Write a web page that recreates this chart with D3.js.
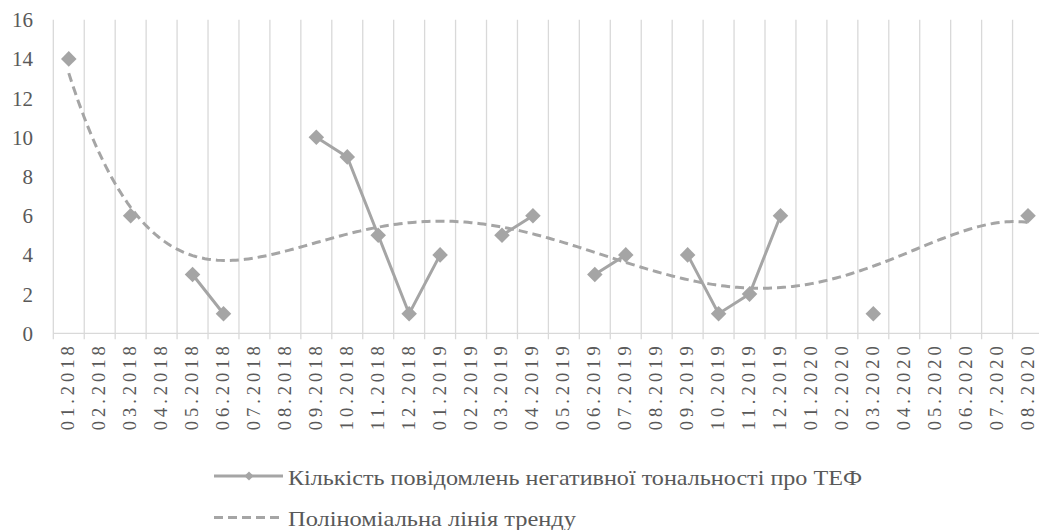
<html>
<head>
<meta charset="utf-8">
<script src="https://d3js.org/d3.v7.min.js"></script>
<style>
    body { margin: 0; background: #fff; }
</style>
</head>
<body>
<svg></svg>
<script>
    const width = 1039;
    const height = 530;

    // months on the category axis
    const months = [
        "01.2018","02.2018","03.2018","04.2018","05.2018","06.2018","07.2018","08.2018","09.2018","10.2018","11.2018","12.2018",
        "01.2019","02.2019","03.2019","04.2019","05.2019","06.2019","07.2019","08.2019","09.2019","10.2019","11.2019","12.2019",
        "01.2020","02.2020","03.2020","04.2020","05.2020","06.2020","07.2020","08.2020"
    ];
    // null = empty cell (gap in the line)
    const counts = [
        14, null, 6, null, 3, 1, null, null, 10, 9, 5, 1,
        4, null, 5, 6, null, 3, 4, null, 4, 1, 2, 6,
        null, null, 1, null, null, null, null, 6
    ];
    const yTicks = [0, 2, 4, 6, 8, 10, 12, 14, 16];
    const seriesName = "Кількість повідомлень негативної тональності про ТЕФ";
    const trendName = "Поліноміальна лінія тренду";
    const trendOrder = 5;

    const grey = "#a5a5a5";
    const gridColor = "#d9d9d9";
    const font = "Times New Roman, Liberation Serif, DejaVu Serif, serif";

    const svg = d3.select("svg").attr("width", width).attr("height", height);

    const x = d3.scaleBand().domain(months).range([53.3, 1043.5]).padding(0);
    const y = d3.scaleLinear().domain([0, 16]).range([333.3, 19.7]);
    const cx = m => x(m) + x.bandwidth() / 2;

    // vertical gridlines on category boundaries, running down as tick marks
    const bounds = months.map(m => x(m)).concat([x.range()[1]]);
    svg.append("g").selectAll("line")
        .data(bounds)
        .enter().append("line")
        .attr("x1", d => d).attr("x2", d => d)
        .attr("y1", y(16)).attr("y2", y(0) + 6)
        .style("stroke", gridColor)
        .style("stroke-width", 1.3);

    svg.append("line")
        .attr("x1", x.range()[0]).attr("x2", x.range()[1])
        .attr("y1", y(0)).attr("y2", y(0))
        .style("stroke", gridColor)
        .style("stroke-width", 1.3);

    // y labels
    svg.append("g").selectAll("text")
        .data(yTicks)
        .enter().append("text")
        .attr("x", 33)
        .attr("y", d => y(d))
        .attr("dy", "0.36em")
        .attr("text-anchor", "end")
        .style("font-family", font)
        .style("font-size", "21px")
        .style("fill", "#595959")
        .text(d => d);

    // x labels, rotated
    svg.append("g").selectAll("text")
        .data(months)
        .enter().append("text")
        .attr("transform", d => `translate(${cx(d) + 5.5},${y(0) + 13}) rotate(-90)`)
        .attr("text-anchor", "end")
        .attr("textLength", 84)
        .attr("lengthAdjust", "spacing")
        .style("font-family", font)
        .style("font-size", "18.5px")
        .style("fill", "#595959")
        .text(d => d);

    // polynomial trendline (least squares on category index 1..n, like Excel)
    const pts = counts.map((v, i) => [i + 1, v]).filter(p => p[1] != null);
    const n = months.length;
    const sx = t => (t - (n + 1) / 2) / ((n - 1) / 2);
    function polyFit(points, order) {
        const k = order + 1;
        const A = Array.from({length: k}, () => new Array(k + 1).fill(0));
        points.forEach(([px, py]) => {
            const u = sx(px);
            const pw = [];
            for (let j = 0; j < 2 * k; j++) pw.push(Math.pow(u, j));
            for (let r = 0; r < k; r++) {
                for (let c = 0; c < k; c++) A[r][c] += pw[r + c];
                A[r][k] += pw[r] * py;
            }
        });
        for (let c = 0; c < k; c++) {
            let p = c;
            for (let r = c + 1; r < k; r++) if (Math.abs(A[r][c]) > Math.abs(A[p][c])) p = r;
            [A[c], A[p]] = [A[p], A[c]];
            for (let r = 0; r < k; r++) {
                if (r === c) continue;
                const f = A[r][c] / A[c][c];
                for (let j = c; j <= k; j++) A[r][j] -= f * A[c][j];
            }
        }
        return A.map((row, i) => row[k] / row[i]);
    }
    const coef = polyFit(pts, trendOrder);
    const trendAt = t => coef.reduce((s, c, j) => s + c * Math.pow(sx(t), j), 0);
    const trendData = d3.range(1, n + 0.001, 0.1).map(t => [t, trendAt(t)]);
    const xi = t => cx(months[0]) + (t - 1) * x.bandwidth();

    svg.append("path")
        .datum(trendData)
        .attr("d", d3.line().x(d => xi(d[0])).y(d => y(d[1])))
        .style("fill", "none")
        .style("stroke", grey)
        .style("stroke-width", 3)
        .style("stroke-dasharray", "9,5");

    // series line with gaps
    const series = months.map((m, i) => ({m: m, v: counts[i]}));
    svg.append("path")
        .datum(series)
        .attr("d", d3.line().defined(d => d.v != null).x(d => cx(d.m)).y(d => y(d.v)))
        .style("fill", "none")
        .style("stroke", grey)
        .style("stroke-width", 3);

    svg.append("g").selectAll("path")
        .data(series.filter(d => d.v != null))
        .enter().append("path")
        .attr("d", d3.symbol().type(d3.symbolSquare).size(121))
        .attr("transform", d => `translate(${cx(d.m)},${y(d.v)}) rotate(45)`)
        .style("fill", grey);

    // legend
    const lg = svg.append("g");
    lg.append("line")
        .attr("x1", 214).attr("x2", 283).attr("y1", 476).attr("y2", 476)
        .style("stroke", grey).style("stroke-width", 3);
    lg.append("path")
        .attr("d", d3.symbol().type(d3.symbolSquare).size(42))
        .attr("transform", "translate(249,476) rotate(45)")
        .style("fill", grey);
    lg.append("text")
        .attr("x", 288).attr("y", 477).attr("dy", "0.36em")
        .attr("textLength", 574)
        .attr("lengthAdjust", "spacingAndGlyphs")
        .style("font-family", font)
        .style("font-size", "21px")
        .style("fill", "#595959")
        .text(seriesName);

    lg.append("line")
        .attr("x1", 214).attr("x2", 283).attr("y1", 517.5).attr("y2", 517.5)
        .style("stroke", grey).style("stroke-width", 3)
        .style("stroke-dasharray", "9,5");
    lg.append("text")
        .attr("x", 288).attr("y", 518).attr("dy", "0.36em")
        .attr("textLength", 288)
        .attr("lengthAdjust", "spacingAndGlyphs")
        .style("font-family", font)
        .style("font-size", "21px")
        .style("fill", "#595959")
        .text(trendName);
</script>
</body>
</html>
